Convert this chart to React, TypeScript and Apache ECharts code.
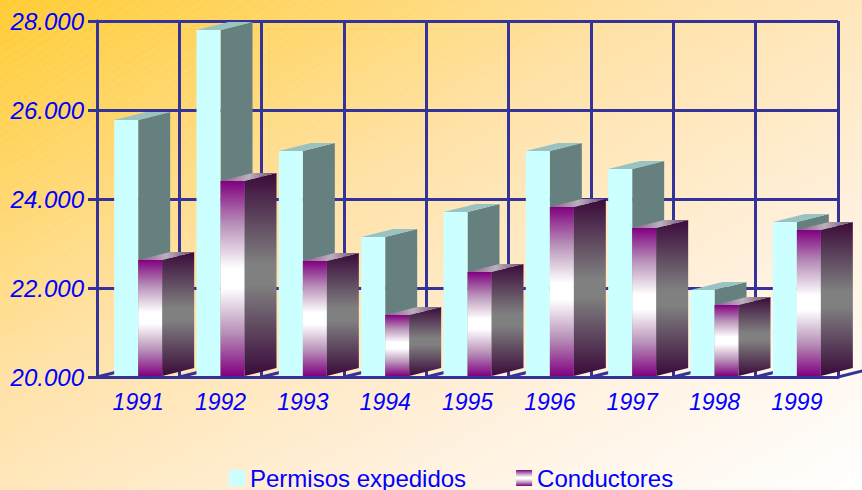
import React, { useEffect, useRef } from "react";
import * as echarts from "echarts";

const categories = ["1991", "1992", "1993", "1994", "1995", "1996", "1997", "1998", "1999"];
const permisos = [25775, 27800, 25080, 23145, 23710, 25080, 24675, 21955, 23485];
const conductores = [22630, 24405, 22605, 21395, 22360, 23820, 23350, 21620, 23305];
const yTicks = { min: 20000, max: 28000, interval: 2000 };

const BLUE = "#0000FF";
const LINE = "#333399";
const DX = 32;
const DY = 8;
const BAR_W = 24;

const grad = (x2: number, y2: number, stops: [number, string][]) =>
  new echarts.graphic.LinearGradient(0, 0, x2, y2, stops.map(([offset, color]) => ({ offset, color })));

const cuboid = (offset: number, front: any, side: any, top: any) => (_p: any, api: any) => {
  const i = api.value(0);
  const [cx, yTop] = api.coord([i, api.value(1)]);
  const [, yBase] = api.coord([i, yTicks.min]);
  const x0 = cx + offset;
  const x1 = x0 + BAR_W;
  const b = yBase - 1;
  const poly = (points: number[][], fill: any) => ({ type: "polygon", shape: { points }, style: { fill } });
  return {
    type: "group",
    children: [
      poly([[x1, yTop], [x1 + DX, yTop - DY], [x1 + DX, b - DY], [x1, b]], side),
      poly([[x0, yTop], [x0 + DX, yTop - DY], [x1 + DX, yTop - DY], [x1, yTop]], top),
      poly([[x0, yTop], [x1, yTop], [x1, b], [x0, b]], front),
    ],
  };
};

const floor = (_p: any, api: any) => {
  const i = api.value(0);
  const band = api.size([1, 0])[0];
  const [cx, y] = api.coord([i, yTicks.min]);
  const seg = (x: number) => ({
    type: "line",
    shape: { x1: x, y1: y, x2: x + DX, y2: y - DY },
    style: { stroke: LINE, lineWidth: 3 },
  });
  const children = [seg(cx - band / 2)];
  if (i === categories.length - 1) children.push(seg(cx + band / 2));
  return { type: "group", children };
};

export default function App() {
  const ref = useRef<HTMLDivElement>(null);
  useEffect(() => {
    document.body.style.margin = "0";
    const chart = echarts.init(ref.current!, null, { renderer: "svg" });
    const font = { fontFamily: "Liberation Sans", color: BLUE };
    const purpleV = grad(0, 1, [
      [0, "#800080"],
      [0.22, "#B78FB7"],
      [0.45, "#FFFFFF"],
      [0.55, "#FFFFFF"],
      [0.78, "#B78FB7"],
      [1, "#800080"],
    ]);
    const darkV = grad(0, 1, [[0, "#3A0A3A"], [0.45, "#808080"], [0.55, "#808080"], [1, "#3A0A3A"]]);
    chart.setOption({
      animation: false,
      backgroundColor: "transparent",
      grid: { left: 97, right: 24, top: 21, bottom: 113, containLabel: false },
      legend: {
        left: 229,
        top: 466,
        padding: 0,
        itemWidth: 16,
        itemHeight: 16,
        itemGap: 50,
        icon: "rect",
        data: ["Permisos expedidos", "Conductores"],
        textStyle: { ...font, fontSize: 24 },
      },
      xAxis: {
        type: "category",
        data: categories,
        axisLine: { lineStyle: { color: LINE, width: 3 } },
        axisTick: { length: 8, lineStyle: { color: LINE, width: 3 } },
        splitLine: { show: true, lineStyle: { color: LINE, width: 3 } },
        axisLabel: { ...font, fontSize: 23, fontStyle: "italic", margin: 13 },
      },
      yAxis: {
        type: "value",
        ...yTicks,
        axisLine: { show: true, lineStyle: { color: LINE, width: 3 } },
        axisTick: { show: true, length: 9, lineStyle: { color: LINE, width: 3 } },
        splitLine: { show: true, lineStyle: { color: LINE, width: 3 } },
        axisLabel: {
          ...font,
          fontSize: 24,
          fontStyle: "italic",
          margin: 13,
          formatter: (v: number) => String(v).replace(/(\d)(\d{3})$/, "$1.$2"),
        },
      },
      series: [
        {
          name: "floor",
          type: "custom",
          renderItem: floor,
          data: categories.map((_, i) => [i, yTicks.min]),
          encode: { x: 0, y: 1 },
          silent: true,
          clip: false,
        },
        {
          name: "Permisos expedidos",
          type: "custom",
          renderItem: cuboid(-BAR_W, "#CCFFFF", "#668080", "#99C2C2"),
          itemStyle: { color: "#CCFFFF" },
          data: permisos.map((v, i) => [i, v]),
          encode: { x: 0, y: 1 },
          clip: false,
        },
        {
          name: "Conductores",
          type: "custom",
          renderItem: cuboid(
            0,
            purpleV,
            darkV,
            grad(1, 0, [[0, "#8A5A8A"], [0.5, "#BDB0BD"], [1, "#6A4A6A"]])
          ),
          itemStyle: { color: purpleV },
          data: conductores.map((v, i) => [i, v]),
          encode: { x: 0, y: 1 },
          clip: false,
        },
      ],
    });
    return () => chart.dispose();
  }, []);
  return (
    <div
      style={{
        position: "absolute",
        left: 0,
        top: 0,
        width: 862,
        height: 490,
        overflow: "hidden",
        background:
          "repeating-linear-gradient(147deg, rgba(255,255,255,0) 0px, rgba(255,255,255,0) 6px, rgba(255,255,255,0.09) 6px, rgba(255,255,255,0.09) 7px), linear-gradient(to bottom right, #FFCC33 0%, #FFE2A8 40%, #FFF0DC 70%, #FFFFFF 100%)",
      }}
    >
      <div ref={ref} style={{ width: 862, height: 490 }} />
    </div>
  );
}
